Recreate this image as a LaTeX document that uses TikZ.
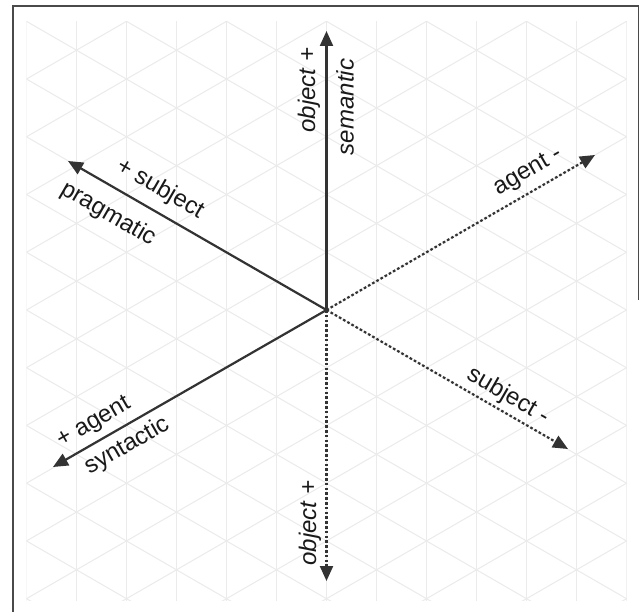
\documentclass[tikz,border=0pt]{standalone}
\usepackage{fontspec}
\setmainfont{Liberation Sans}
\usetikzlibrary{arrows.meta}
\definecolor{axiscol}{HTML}{333333}
\definecolor{gridcol}{HTML}{EBEBEB}
\definecolor{framecol}{HTML}{4A4A4A}
\tikzset{
  axis/.style={draw=axiscol, line width=2.2pt, -{Triangle[length=15pt,width=13pt]}},
  dotaxis/.style={axis, dash pattern=on 2.6pt off 2.2pt},
  lbl/.style={inner sep=0pt, text=black!90, font=\fontsize{24}{28}\selectfont},
  ilbl/.style={lbl, font=\fontsize{24}{28}\selectfont\itshape},
  gridline/.style={draw=gridcol, line width=1pt}
}
\begin{document}
\begin{tikzpicture}[x=1pt,y=-1pt]
\useasboundingbox (0,0) rectangle (640,612);
\fill[white] (0,0) rectangle (640,612);
% frame
\draw[framecol, line width=1.4pt] (13,612) -- (13,6) -- (638.5,6) -- (638.5,300);
% grid
\begin{scope}
\clip (26.5,22) rectangle (626.5,600);
\foreach \k in {0,...,12} {\draw[gridline] (26.5+50*\k,0) -- (26.5+50*\k,612);}
\foreach \m in {-10,...,10} {
  \draw[gridline] (0,121.5+57.735*\m) -- (640,491.0+57.735*\m);
  \draw[gridline] (0,498.5+57.735*\m) -- (640,129.0+57.735*\m);
}
\end{scope}
% axes
\coordinate (O) at (326.5,310);
\coordinate (up) at (326.5,31);
\coordinate (ul) at (68,161);
\coordinate (ur) at (595,155);
\coordinate (lr) at (568,449);
\coordinate (ll) at (53,467);
\coordinate (dn) at (326.5,581);
\draw[axis] (O) -- (up);
\draw[axis] (O) -- (ul);
\draw[axis] (O) -- (ll);
\draw[dotaxis] (O) -- (ur);
\draw[dotaxis] (O) -- (lr);
\draw[dotaxis] (O) -- (dn);
% labels
\node[ilbl, rotate=90] (objup) at (309,90) {object +};
\node[ilbl, rotate=90] (sem) at (345,107) {semantic};
\node[lbl, rotate=-30] (subjp) at (160,189) {+ subject};
\node[lbl, rotate=-30] (prag) at (108,214) {pragmatic};
\node[lbl, rotate=30] (agm) at (528,172) {agent -};
\node[lbl, rotate=-30] (subjm) at (508,396) {subject -};
\node[lbl, rotate=30] (agp) at (94,423) {+ agent};
\node[lbl, rotate=30] (syn) at (127,446) {syntactic};
\node[ilbl, rotate=90] (objdn) at (310,523) {object +};
\end{tikzpicture}
\end{document}
